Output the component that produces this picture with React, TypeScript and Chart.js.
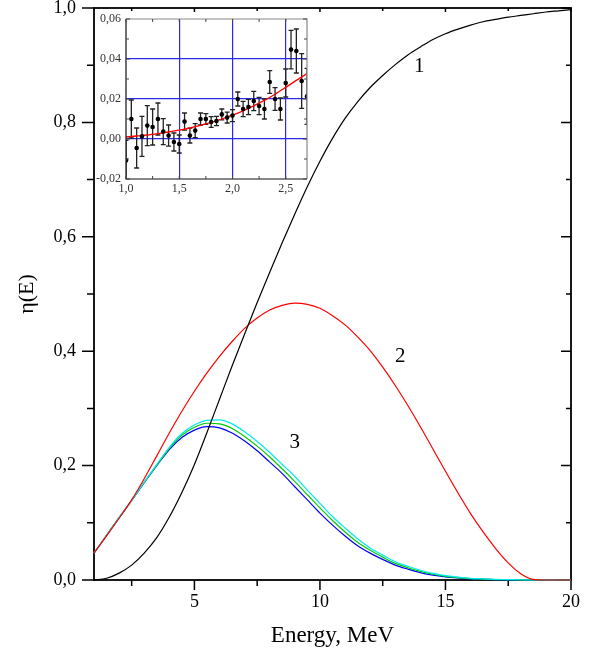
import React, { useEffect, useRef } from 'react';
import { Chart, registerables } from 'chart.js';
Chart.register(...registerables);

// ---------- main plot data ----------
const energy = [1, 1.5, 2, 2.5, 3, 3.5, 4, 4.5, 5, 5.5, 6, 6.5, 7, 7.5, 8, 8.5, 9, 9.5, 10, 10.5, 11, 11.5, 12, 12.5, 13, 13.5, 14, 14.5, 15, 15.5, 16, 16.5, 17, 17.5, 18, 18.5, 19, 19.5, 20];
const curve1 = [0, 0.003, 0.012, 0.026, 0.047, 0.074, 0.110, 0.153, 0.202, 0.258, 0.316, 0.374, 0.430, 0.485, 0.538, 0.590, 0.640, 0.688, 0.732, 0.772, 0.807, 0.836, 0.861, 0.882, 0.901, 0.918, 0.932, 0.945, 0.955, 0.963, 0.970, 0.976, 0.980, 0.984, 0.987, 0.990, 0.993, 0.995, 0.997];
const curve2 = [0.047, 0.077, 0.108, 0.140, 0.177, 0.217, 0.257, 0.295, 0.330, 0.362, 0.391, 0.417, 0.440, 0.458, 0.472, 0.480, 0.484, 0.482, 0.475, 0.462, 0.446, 0.425, 0.401, 0.372, 0.340, 0.305, 0.268, 0.229, 0.190, 0.152, 0.116, 0.084, 0.055, 0.030, 0.011, 0.001, 0, 0, 0];
const curve3Blue = [0.047, 0.078, 0.109, 0.139, 0.170, 0.200, 0.228, 0.249, 0.262, 0.268, 0.266, 0.257, 0.243, 0.226, 0.206, 0.186, 0.163, 0.140, 0.117, 0.096, 0.077, 0.060, 0.047, 0.036, 0.026, 0.019, 0.013, 0.0085, 0.0055, 0.0035, 0.002, 0.0012, 0.0006, 0.0003, 0.0001, 0, 0, 0, 0];
const curve3Green = [0.047, 0.078, 0.109, 0.139, 0.171, 0.201, 0.230, 0.253, 0.267, 0.274, 0.273, 0.265, 0.251, 0.234, 0.215, 0.194, 0.172, 0.149, 0.126, 0.104, 0.084, 0.066, 0.052, 0.040, 0.029, 0.0215, 0.015, 0.010, 0.0065, 0.0042, 0.0025, 0.0016, 0.0008, 0.0005, 0.0002, 0.0001, 0, 0, 0];
const curve3Cyan = [0.047, 0.078, 0.109, 0.139, 0.171, 0.202, 0.232, 0.256, 0.271, 0.279, 0.280, 0.273, 0.259, 0.242, 0.223, 0.202, 0.181, 0.157, 0.134, 0.111, 0.091, 0.072, 0.056, 0.0435, 0.032, 0.024, 0.017, 0.0115, 0.0075, 0.005, 0.003, 0.002, 0.001, 0.0008, 0.0004, 0.0002, 0.0001, 0, 0];

const xMajorTicks = [5, 10, 15, 20];
const xMinorTicks = [2.5, 7.5, 12.5, 17.5];
const yMajorTicks = [0, 0.2, 0.4, 0.6, 0.8, 1.0];
const yMinorTicks = [0.1, 0.3, 0.5, 0.7, 0.9];

const curveLabels = ['1', '2', '3'];
const curveLabelE = [13.96, 13.2, 9.0];
const curveLabelY = [0.897, 0.39, 0.24];

// ---------- inset data ----------
const insetE = [1.00, 1.05, 1.10, 1.15, 1.20, 1.25, 1.30, 1.35, 1.40, 1.45, 1.50, 1.55, 1.60, 1.65, 1.70, 1.75, 1.80, 1.85, 1.90, 1.95, 2.00, 2.05, 2.10, 2.15, 2.20, 2.25, 2.30, 2.35, 2.40, 2.45, 2.50, 2.55, 2.60, 2.65, 2.70];
const insetY = [-0.0107, 0.0100, -0.0045, 0.0013, 0.0067, 0.0060, 0.0100, 0.0037, 0.0017, -0.0015, -0.0025, 0.0087, 0.0017, 0.0042, 0.0100, 0.0100, 0.0085, 0.0090, 0.0123, 0.0107, 0.0117, 0.0200, 0.0150, 0.0160, 0.0190, 0.0165, 0.0150, 0.0285, 0.0200, 0.0150, 0.0280, 0.0447, 0.0440, 0.0290, 0.0213];
const insetErr = [0.0100, 0.0095, 0.0100, 0.0100, 0.0100, 0.0090, 0.0080, 0.0065, 0.0053, 0.0045, 0.0045, 0.0043, 0.0037, 0.0035, 0.0030, 0.0027, 0.0027, 0.0023, 0.0027, 0.0027, 0.0030, 0.0035, 0.0038, 0.0038, 0.0048, 0.0043, 0.0050, 0.0057, 0.0057, 0.0055, 0.0070, 0.0096, 0.0110, 0.0137, 0.0140];
const fitE = [1.0, 1.1, 1.2, 1.3, 1.4, 1.5, 1.6, 1.7, 1.8, 1.9, 2.0, 2.1, 2.2, 2.3, 2.4, 2.5, 2.6, 2.7];
const fitY = [0.0010, 0.0015, 0.0020, 0.0027, 0.0035, 0.0044, 0.0055, 0.0068, 0.0083, 0.0100, 0.0119, 0.0141, 0.0166, 0.0193, 0.0224, 0.0258, 0.0293, 0.0327];
const insetXTicks = [1.0, 1.5, 2.0, 2.5];
const insetYTicks = [-0.02, 0, 0.02, 0.04, 0.06];
const insetXGrid = [1.5, 2.0, 2.5];
const insetYGrid = [0, 0.02, 0.04];

const SERIF = "'Liberation Serif', 'Times New Roman', serif";

const toXY = (xs: number[], ys: number[]) => xs.map((x, i) => ({ x, y: ys[i] }));

const mainFrame = {
  id: 'mainFrame',
  beforeDatasetsDraw(chart: any) {
    const { ctx, chartArea: a, scales } = chart;
    const x = scales.x, y = scales.y;
    ctx.save();
    ctx.strokeStyle = '#000';
    ctx.lineWidth = 1.8;
    ctx.strokeRect(a.left, a.top, a.right - a.left, a.bottom - a.top);
    ctx.lineWidth = 1.5;
    ctx.beginPath();
    yMajorTicks.forEach((v) => {
      const p = y.getPixelForValue(v);
      ctx.moveTo(a.left - 12, p); ctx.lineTo(a.left, p);
      ctx.moveTo(a.right - 10, p); ctx.lineTo(a.right, p);
    });
    yMinorTicks.forEach((v) => {
      const p = y.getPixelForValue(v);
      ctx.moveTo(a.left - 7, p); ctx.lineTo(a.left, p);
      ctx.moveTo(a.right - 5, p); ctx.lineTo(a.right, p);
    });
    xMajorTicks.forEach((v) => {
      const p = x.getPixelForValue(v);
      ctx.moveTo(p, a.bottom); ctx.lineTo(p, a.bottom + 10);
      ctx.moveTo(p, a.top); ctx.lineTo(p, a.top + 4);
    });
    xMinorTicks.forEach((v) => {
      const p = x.getPixelForValue(v);
      ctx.moveTo(p, a.bottom); ctx.lineTo(p, a.bottom + 6);
      ctx.moveTo(p, a.top); ctx.lineTo(p, a.top + 3);
    });
    ctx.stroke();
    ctx.restore();
  },
  afterDraw(chart: any) {
    const { ctx, scales } = chart;
    ctx.save();
    ctx.fillStyle = '#000';
    ctx.font = `21px ${SERIF}`;
    ctx.textAlign = 'center';
    ctx.textBaseline = 'middle';
    curveLabels.forEach((t, i) => {
      ctx.fillText(t, scales.x.getPixelForValue(curveLabelE[i]), scales.y.getPixelForValue(curveLabelY[i]));
    });
    ctx.restore();
  },
};

const insetDecor = {
  id: 'insetDecor',
  beforeDatasetsDraw(chart: any) {
    const { ctx, chartArea: a, scales } = chart;
    const x = scales.x, y = scales.y;
    ctx.save();
    ctx.beginPath();
    ctx.rect(a.left, a.top, a.right - a.left, a.bottom - a.top);
    ctx.clip();
    ctx.strokeStyle = '#222';
    ctx.lineWidth = 1.3;
    ctx.beginPath();
    insetE.forEach((e, i) => {
      const px = x.getPixelForValue(e);
      const top = y.getPixelForValue(insetY[i] + insetErr[i]);
      const bot = y.getPixelForValue(insetY[i] - insetErr[i]);
      ctx.moveTo(px, top); ctx.lineTo(px, bot);
      ctx.moveTo(px - 2.5, top); ctx.lineTo(px + 2.5, top);
      ctx.moveTo(px - 2.5, bot); ctx.lineTo(px + 2.5, bot);
    });
    ctx.stroke();
    ctx.restore();
  },
  afterDraw(chart: any) {
    const { ctx, chartArea: a, scales } = chart;
    const x = scales.x, y = scales.y;
    ctx.save();
    ctx.lineWidth = 1.2;
    ctx.strokeStyle = '#888';
    ctx.beginPath();
    ctx.moveTo(a.left, a.top); ctx.lineTo(a.right, a.top); ctx.lineTo(a.right, a.bottom);
    ctx.stroke();
    ctx.strokeStyle = '#111';
    ctx.beginPath();
    ctx.moveTo(a.left, a.top); ctx.lineTo(a.left, a.bottom); ctx.lineTo(a.right, a.bottom);
    ctx.stroke();
    ctx.lineWidth = 1;
    ctx.strokeStyle = '#444';
    ctx.beginPath();
    for (let k = -2; k <= 6; k++) {
      const p = y.getPixelForValue(k / 100);
      const len = k % 2 === 0 ? 4 : 3;
      ctx.moveTo(a.left, p); ctx.lineTo(a.left + len, p);
      ctx.moveTo(a.right, p); ctx.lineTo(a.right - len, p);
    }
    for (let k = 0; k <= 6; k++) {
      const v = 1 + k * 0.25;
      const p = x.getPixelForValue(v);
      ctx.moveTo(p, a.bottom); ctx.lineTo(p, a.bottom - 3);
      ctx.moveTo(p, a.top); ctx.lineTo(p, a.top + 3);
    }
    ctx.stroke();
    ctx.restore();
  },
};

export default function App() {
  const mainRef = useRef<HTMLCanvasElement>(null);
  const insetRef = useRef<HTMLCanvasElement>(null);

  useEffect(() => {
    const line = (label: string, ys: number[], color: string) => ({
      label,
      data: toXY(energy, ys),
      borderColor: color,
      backgroundColor: color,
      borderWidth: 1.2,
      pointRadius: 0,
      fill: false,
      cubicInterpolationMode: 'monotone' as const,
      clip: 4,
    });
    const main = new Chart(mainRef.current!, {
      type: 'line',
      data: {
        datasets: [
          line('1', curve1, '#000000'),
          line('2', curve2, '#ff0000'),
          line('3 cyan', curve3Cyan, '#00e8f0'),
          line('3 green', curve3Green, '#00cc00'),
          line('3 blue', curve3Blue, '#0000ff'),
        ],
      },
      options: {
        animation: false,
        responsive: false,
        devicePixelRatio: 1,
        layout: { padding: { top: 8, right: 20, left: 0, bottom: 0 } },
        plugins: { legend: { display: false }, tooltip: { enabled: false } },
        scales: {
          x: {
            type: 'linear',
            min: 1,
            max: 20,
            grid: { display: false, drawTicks: false },
            border: { display: false },
            afterBuildTicks: (s: any) => { s.ticks = xMajorTicks.map((v) => ({ value: v })); },
            afterFit: (s: any) => { s.height = 72; s.paddingLeft = 0; s.paddingRight = 0; },
            ticks: {
              color: '#000',
              font: { family: SERIF, size: 18 },
              padding: 11,
              maxRotation: 0,
              callback: (v: any) => String(v),
            },
            title: {
              display: true,
              text: 'Energy, MeV',
              color: '#000',
              font: { family: SERIF, size: 23 },
              padding: { top: 0, bottom: 2 },
            },
          },
          y: {
            type: 'linear',
            min: 0,
            max: 1,
            grid: { display: false, drawTicks: false },
            border: { display: false },
            afterBuildTicks: (s: any) => { s.ticks = yMajorTicks.map((v) => ({ value: v })); },
            afterFit: (s: any) => { s.width = 94; s.paddingTop = 0; s.paddingBottom = 0; },
            ticks: {
              color: '#000',
              font: { family: SERIF, size: 18 },
              padding: 18,
              callback: (v: any) => Number(v).toFixed(1).replace('.', ','),
            },
            title: {
              display: true,
              text: 'η(E)',
              color: '#000',
              font: { family: SERIF, size: 22 },
              padding: { top: 14, bottom: 0 },
            },
          },
        },
      },
      plugins: [mainFrame],
    });

    const inset = new Chart(insetRef.current!, {
      type: 'line',
      data: {
        datasets: [
          {
            label: 'data',
            data: toXY(insetE, insetY),
            showLine: false,
            pointRadius: 2.3,
            pointBackgroundColor: '#000',
            pointBorderColor: '#000',
            pointBorderWidth: 0,
          },
          {
            label: 'fit',
            data: toXY(fitE, fitY),
            borderColor: '#ff0000',
            borderWidth: 1.3,
            pointRadius: 0,
            cubicInterpolationMode: 'monotone' as const,
          },
        ],
      },
      options: {
        animation: false,
        responsive: false,
        devicePixelRatio: 1,
        layout: { padding: { top: 11, right: 8, left: 0, bottom: 0 } },
        plugins: { legend: { display: false }, tooltip: { enabled: false } },
        scales: {
          x: {
            type: 'linear',
            min: 1.0,
            max: 2.7,
            border: { display: false },
            grid: {
              drawTicks: false,
              lineWidth: 1.2,
              color: (c: any) => (insetXGrid.some((g) => Math.abs(g - c.tick?.value) < 1e-6) ? '#2a2aee' : 'rgba(0,0,0,0)'),
            },
            afterBuildTicks: (s: any) => { s.ticks = insetXTicks.map((v) => ({ value: v })); },
            afterFit: (s: any) => { s.height = 24; s.paddingLeft = 0; s.paddingRight = 0; },
            ticks: {
              color: '#333',
              font: { family: SERIF, size: 12 },
              padding: 3,
              maxRotation: 0,
              callback: (v: any) => Number(v).toFixed(1).replace('.', ','),
            },
          },
          y: {
            type: 'linear',
            min: -0.02,
            max: 0.06,
            border: { display: false },
            grid: {
              drawTicks: false,
              lineWidth: 1.2,
              color: (c: any) => (insetYGrid.some((g) => Math.abs(g - c.tick?.value) < 1e-6) ? '#2a2aee' : 'rgba(0,0,0,0)'),
            },
            afterBuildTicks: (s: any) => { s.ticks = insetYTicks.map((v) => ({ value: v })); },
            afterFit: (s: any) => { s.width = 36; s.paddingTop = 0; s.paddingBottom = 0; },
            ticks: {
              color: '#333',
              font: { family: SERIF, size: 12 },
              padding: 5,
              callback: (v: any) => Number(v).toFixed(2).replace('.', ','),
            },
          },
        },
      },
      plugins: [insetDecor],
    });

    return () => {
      main.destroy();
      inset.destroy();
    };
  }, []);

  return (
    <div style={{ position: 'absolute', left: 0, top: 0, width: 591, height: 652, background: '#fff' }}>
      <canvas ref={mainRef} width={591} height={652} style={{ position: 'absolute', left: 0, top: 0, width: 591, height: 652 }} />
      <canvas ref={insetRef} width={225} height={195} style={{ position: 'absolute', left: 90, top: 8, width: 225, height: 195 }} />
    </div>
  );
}
